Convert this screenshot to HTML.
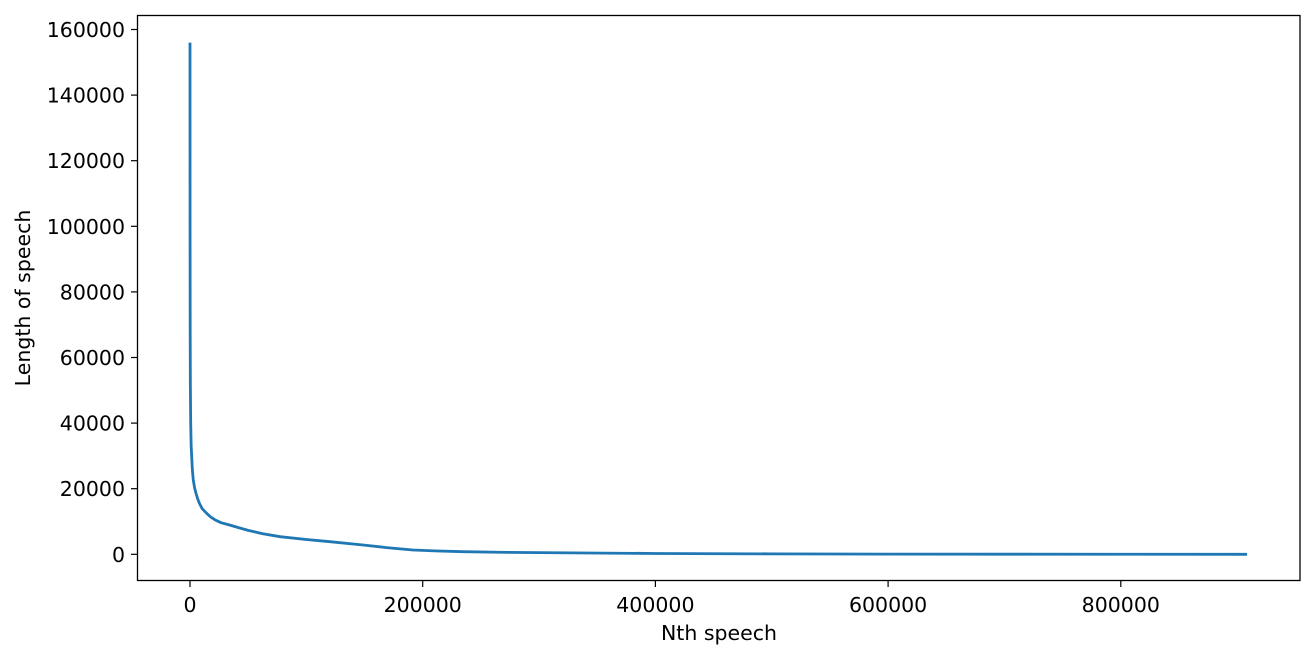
<!DOCTYPE html>
<html><head><meta charset="utf-8"><style>
body{margin:0;background:#fff;font-family:"Liberation Sans","DejaVu Sans",sans-serif}
svg text{font-family:"DejaVu Sans","Liberation Sans",sans-serif;font-size:20.5px;fill:#000}
</style></head><body>
<svg id="chart" width="1314" height="659" viewBox="0 0 1314 659" xmlns="http://www.w3.org/2000/svg">
<rect x="0" y="0" width="1314" height="659" fill="#fff"/>
<g id="ticks"></g>
<path id="line" fill="none" stroke="#1f77b4" stroke-width="2.8" stroke-linejoin="round"/>
<rect x="137.5" y="15.5" width="1162.5" height="565" fill="none" stroke="#000" stroke-width="1.3"/>
<text x="719" y="640" text-anchor="middle">Nth speech</text>
<text transform="translate(30,298) rotate(-90)" text-anchor="middle">Length of speech</text>
</svg>
<script>
const nValues=[0,50,150,300,600,1000,2000,2800,4000,5000,6500,8000,10500,14300,18000,22000,27000,34400,42000,50000,62000,77400,100000,120300,148700,170000,191700,210000,234600,265000,300000,400000,500000,600000,700000,800000,908500];
const lengthValues=[156000,100000,70000,52000,40000,33000,26000,22650,20200,18800,17000,15600,13900,12500,11300,10400,9600,8900,8100,7300,6300,5370,4500,3840,2840,2000,1310,1050,800,620,500,250,130,60,30,10,0];
const xTicks=[0,200000,400000,600000,800000];
const yTicks=[0,20000,40000,60000,80000,100000,120000,140000,160000];
const X=v=>190+v/200000*232.7;
const Y=v=>554.3-v/20000*65.6;
const ns="http://www.w3.org/2000/svg";
const g=document.getElementById('ticks');
function mk(t,a){const e=document.createElementNS(ns,t);for(const k in a)e.setAttribute(k,a[k]);g.appendChild(e);return e;}
xTicks.forEach(v=>{
 const l=mk('line',{x1:X(v),x2:X(v),y1:580.5,y2:587,stroke:'#000','stroke-width':1.2});
 
 
 const t=mk('text',{x:X(v),y:612,'text-anchor':'middle'});t.textContent=v;
 
 
});
yTicks.forEach(v=>{
 const l=mk('line',{x1:131,x2:137.5,y1:Y(v),y2:Y(v),stroke:'#000','stroke-width':1.2});
 
 
 const t=mk('text',{x:125,y:Y(v)+7.5,'text-anchor':'end'});t.textContent=v;
 
 
});
document.getElementById('line').setAttribute('d',nValues.map((n,i)=>(i?'L':'M')+X(n).toFixed(2)+','+Y(lengthValues[i]).toFixed(2)).join(''));
</script>
</body></html>
